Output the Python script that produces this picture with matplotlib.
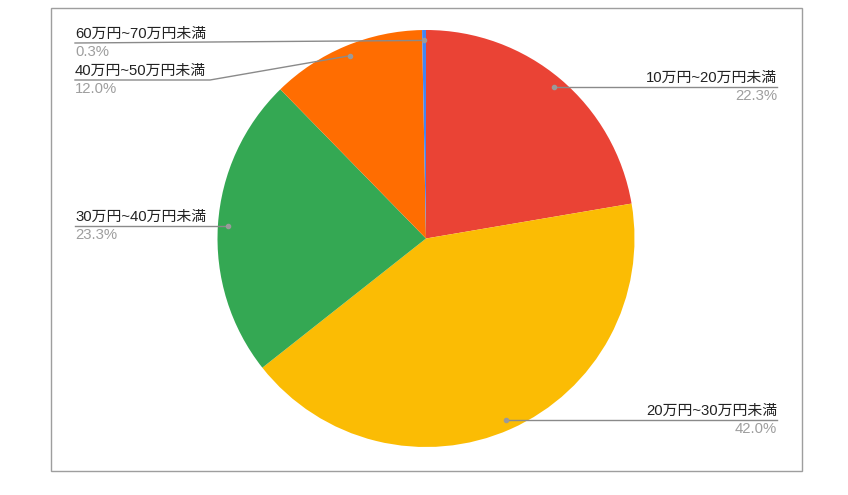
import numpy as np
import matplotlib
matplotlib.use("Agg")
import matplotlib.pyplot as plt
from matplotlib.patches import Rectangle

plt.rcParams['font.family'] = ['Liberation Sans', 'Noto Sans CJK JP', 'DejaVu Sans']

# data (clockwise from 12 o'clock)
labels = ["10万円~20万円未満", "20万円~30万円未満", "30万円~40万円未満",
          "40万円~50万円未満", "60万円~70万円未満"]
shares = [22.3, 42.0, 23.3, 12.0, 0.3]
colors = ["#EA4335", "#FBBC04", "#34A853", "#FF6D01", "#4285F4"]

W, H = 848, 495
fig = plt.figure(figsize=(W / 100, H / 100), dpi=100)
ax = fig.add_axes([0, 0, 1, 1])

cx, cy, r = 426, H - 238.5, 208.5
ax.pie(shares, colors=colors, startangle=90, counterclock=False,
       center=(cx, cy), radius=r, frame=False,
       wedgeprops=dict(linewidth=0))
ax.set_xlim(0, W)
ax.set_ylim(0, H)
ax.set_aspect("equal")
ax.axis("off")

# chart border
ax.add_patch(Rectangle((50.5, H - 470.5), 751, 463, fill=False,
                       edgecolor="#9e9e9e", linewidth=1))

# label lines: dot in wedge at 0.95 r, horizontal leader to text column
line_y_override = {3: H - 80, 4: H - 43}
total = sum(shares)
start = 0.0
for i, (lab, s) in enumerate(zip(labels, shares)):
    mid = (start + s / 2) / total * 2 * np.pi
    start += s
    px = cx + 0.95 * r * np.sin(mid)
    py = cy + 0.95 * r * np.cos(mid)
    right = np.sin(mid) > 0
    ly = line_y_override.get(i, py)
    tx = 777 if right else 75
    if i == 3:
        ax.plot([px, 210, tx], [py, ly, ly], color="#8a8a8a", lw=1, zorder=3)
    else:
        ax.plot([px, tx], [py, ly], color="#8a8a8a", lw=1, zorder=3)
    ax.plot(px, py, "o", color="#9a9a9a", ms=3, zorder=4)
    ha = "right" if right else "left"
    ax.text(tx, ly + 2, lab, ha=ha, va="bottom", fontsize=10.7, color="#222222")
    ax.text(tx, ly - 2, f"{s:.1f}%", ha=ha, va="top", fontsize=10.7, color="#9e9e9e")

fig.savefig("out.png", dpi=100, facecolor="white")
